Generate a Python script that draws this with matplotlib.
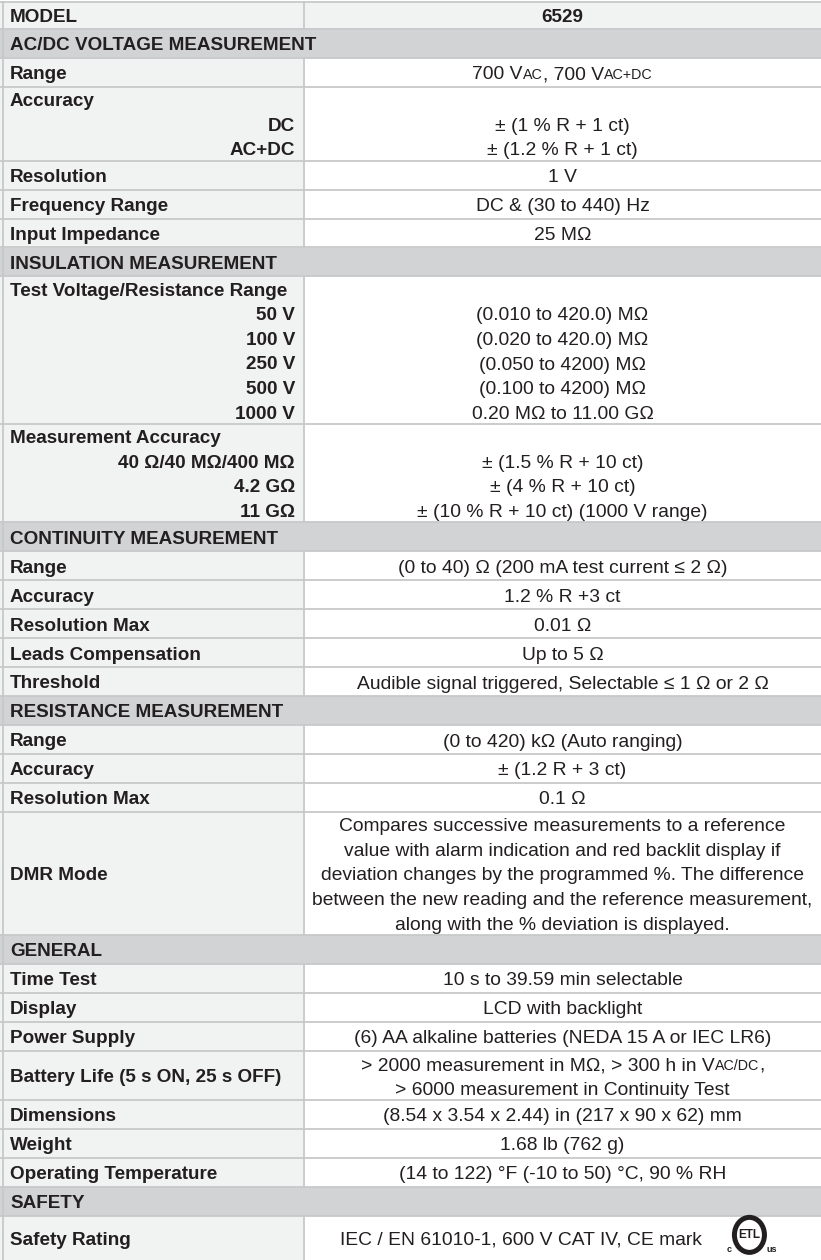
import re
import matplotlib.pyplot as plt
from matplotlib.patches import Rectangle, Ellipse

W, H = 821, 1260
SPLIT = 304
TOP = 1.5
ROW_H = 28.95
PITCH = 24.6

FONT = ['Liberation Sans', 'DejaVu Sans']
TXT = '#231f20'
LEFT_BG = '#f1f2f2'
HEAD_BG = '#d1d3d4'
LINE = '#c7c8ca'
BOLD_PT = 13.6
REG_PT = 13.9

model_label = "MODEL"
model_name = "6529"

# each row: (label, sub labels, values); {..} marks small caps
voltage_rows = [
    ("Range", [], ["700 V{AC}, 700 V{AC+DC}"]),
    ("Accuracy", ["DC", "AC+DC"], ["± (1 % R + 1 ct)", "± (1.2 % R + 1 ct)"]),
    ("Resolution", [], ["1 V"]),
    ("Frequency Range", [], ["DC & (30 to 440) Hz"]),
    ("Input Impedance", [], ["25 MΩ"]),
]
insulation_rows = [
    ("Test Voltage/Resistance Range", ["50 V", "100 V", "250 V", "500 V", "1000 V"],
     ["(0.010 to 420.0) MΩ", "(0.020 to 420.0) MΩ", "(0.050 to 4200) MΩ",
      "(0.100 to 4200) MΩ", "0.20 MΩ to 11.00 GΩ"]),
    ("Measurement Accuracy", ["40 Ω/40 MΩ/400 MΩ", "4.2 GΩ", "11 GΩ"],
     ["± (1.5 % R + 10 ct)", "± (4 % R + 10 ct)", "± (10 % R + 10 ct) (1000 V range)"]),
]
continuity_rows = [
    ("Range", [], ["(0 to 40) Ω (200 mA test current ≤ 2 Ω)"]),
    ("Accuracy", [], ["1.2 % R +3 ct"]),
    ("Resolution Max", [], ["0.01 Ω"]),
    ("Leads Compensation", [], ["Up to 5 Ω"]),
    ("Threshold", [], ["Audible signal triggered, Selectable ≤ 1 Ω or 2 Ω"]),
]
resistance_rows = [
    ("Range", [], ["(0 to 420) kΩ (Auto ranging)"]),
    ("Accuracy", [], ["± (1.2 R + 3 ct)"]),
    ("Resolution Max", [], ["0.1 Ω"]),
    ("DMR Mode", [], ["Compares successive measurements to a reference",
                      "value with alarm indication and red backlit display if",
                      "deviation changes by the programmed %. The difference",
                      "between the new reading and the reference measurement,",
                      "along with the % deviation is displayed."]),
]
general_rows = [
    ("Time Test", [], ["10 s to 39.59 min selectable"]),
    ("Display", [], ["LCD with backlight"]),
    ("Power Supply", [], ["(6) AA alkaline batteries (NEDA 15 A or IEC LR6)"]),
    ("Battery Life (5 s ON, 25 s OFF)", [], ["> 2000 measurement in MΩ, > 300 h in V{AC/DC},",
                                             "> 6000 measurement in Continuity Test"]),
    ("Dimensions", [], ["(8.54 x 3.54 x 2.44) in (217 x 90 x 62) mm"]),
    ("Weight", [], ["1.68 lb (762 g)"]),
    ("Operating Temperature", [], ["(14 to 122) °F (-10 to 50) °C, 90 % RH"]),
]
safety_rows = [
    ("Safety Rating", [], ["IEC / EN 61010-1, 600 V CAT IV, CE mark"]),
]
sections = [
    ("AC/DC VOLTAGE MEASUREMENT", voltage_rows),
    ("INSULATION MEASUREMENT", insulation_rows),
    ("CONTINUITY MEASUREMENT", continuity_rows),
    ("RESISTANCE MEASUREMENT", resistance_rows),
    ("GENERAL", general_rows),
    ("SAFETY", safety_rows),
]

fig = plt.figure(figsize=(W / 100, H / 100), dpi=100)
ax = fig.add_axes([0, 0, 1, 1])
ax.set_xlim(0, W)
ax.set_ylim(H, 0)
ax.axis('off')
renderer = fig.canvas.get_renderer()


def base(yc, pt):
    # baseline for a line visually centred on yc
    return yc + 0.36 * pt * 100 / 72


def rich(x, yc, s, pt=REG_PT, weight='normal', ha='center'):
    parts = re.split(r'(\{[^}]*\})', s)
    items = []
    for p in parts:
        if not p:
            continue
        small = p.startswith('{')
        t = ax.text(0, base(yc, pt), p.strip('{}'), fontsize=pt * (0.74 if small else 1),
                    fontweight=weight, family=FONT, color=TXT, va='baseline', ha='left')
        items.append(t)
    widths = [t.get_window_extent(renderer).width for t in items]
    total = sum(widths)
    if ha == 'center':
        x0 = x - total / 2
    elif ha == 'right':
        x0 = x - total
    else:
        x0 = x
    for t, w in zip(items, widths):
        t.set_x(x0)
        x0 += w
    return x0 - total, x0


def hline(y):
    ax.plot([0, W], [y, y], color=LINE, lw=1.3, solid_capstyle='butt', zorder=3)


y = TOP
# model row
ax.add_patch(Rectangle((0, y), W, ROW_H - 1.5, color=LEFT_BG, lw=0, zorder=0))
rich(10, y + (ROW_H - 1.5) / 2, model_label, BOLD_PT, 'bold', 'left')
rich((SPLIT + W) / 2, y + (ROW_H - 1.5) / 2, model_name, BOLD_PT, 'bold')
ax.plot([SPLIT, SPLIT], [y, y + ROW_H - 1.5], color=LINE, lw=1.3, zorder=3)
hline(y)
y += ROW_H - 1.5

for si, (title, rows) in enumerate(sections):
    hline(y)
    ax.add_patch(Rectangle((0, y), W, ROW_H, color=HEAD_BG, lw=0, zorder=0))
    rich(10, y + ROW_H / 2, title, BOLD_PT, 'bold', 'left')
    y += ROW_H
    for ri, (label, subs, values) in enumerate(rows):
        n = 1 + len(subs) if subs else len(values)
        h = max(ROW_H, n * PITCH)
        if si == len(sections) - 1 and ri == len(rows) - 1:
            h = H - y
        hline(y)
        ax.add_patch(Rectangle((0, y), SPLIT, h, color=LEFT_BG, lw=0, zorder=0))
        ax.plot([SPLIT, SPLIT], [y, y + h], color=LINE, lw=1.3, zorder=3)
        yc = y + h / 2
        first = yc - (n - 1) / 2 * PITCH
        if subs:
            rich(10, first, label, BOLD_PT, 'bold', 'left')
            for k, s in enumerate(subs):
                rich(295, first + (k + 1) * PITCH, s, BOLD_PT, 'bold', 'right')
            for k, v in enumerate(values):
                rich((SPLIT + W) / 2, first + (k + 1) * PITCH, v)
        else:
            rich(10, yc, label, BOLD_PT, 'bold', 'left')
            for k, v in enumerate(values):
                if label == "Safety Rating":
                    x0, x1 = rich((SPLIT + W) / 2 - 42, first + k * PITCH, v)
                    # ETL listed mark
                    lx = x1 + 48
                    ax.add_patch(Ellipse((lx, yc - 3), 30, 35, fill=False,
                                         ec=TXT, lw=3.6, zorder=4))
                    ax.text(lx, yc - 3, "ETL", fontsize=8.5, fontweight='heavy',
                            family=FONT, color=TXT, ha='center', va='center', zorder=4)
                    ax.text(lx - 20, yc + 12, "c", fontsize=6.5, fontweight='bold',
                            family=FONT, color=TXT, ha='center', va='center')
                    ax.text(lx + 22, yc + 12, "us", fontsize=6.5, fontweight='bold',
                            family=FONT, color=TXT, ha='center', va='center')
                else:
                    rich((SPLIT + W) / 2, first + k * PITCH, v)
        y += h

# outer left border
ax.plot([2.5, 2.5], [TOP, H], color=LINE, lw=1.3, zorder=3)

fig.savefig('out.png', dpi=100)
